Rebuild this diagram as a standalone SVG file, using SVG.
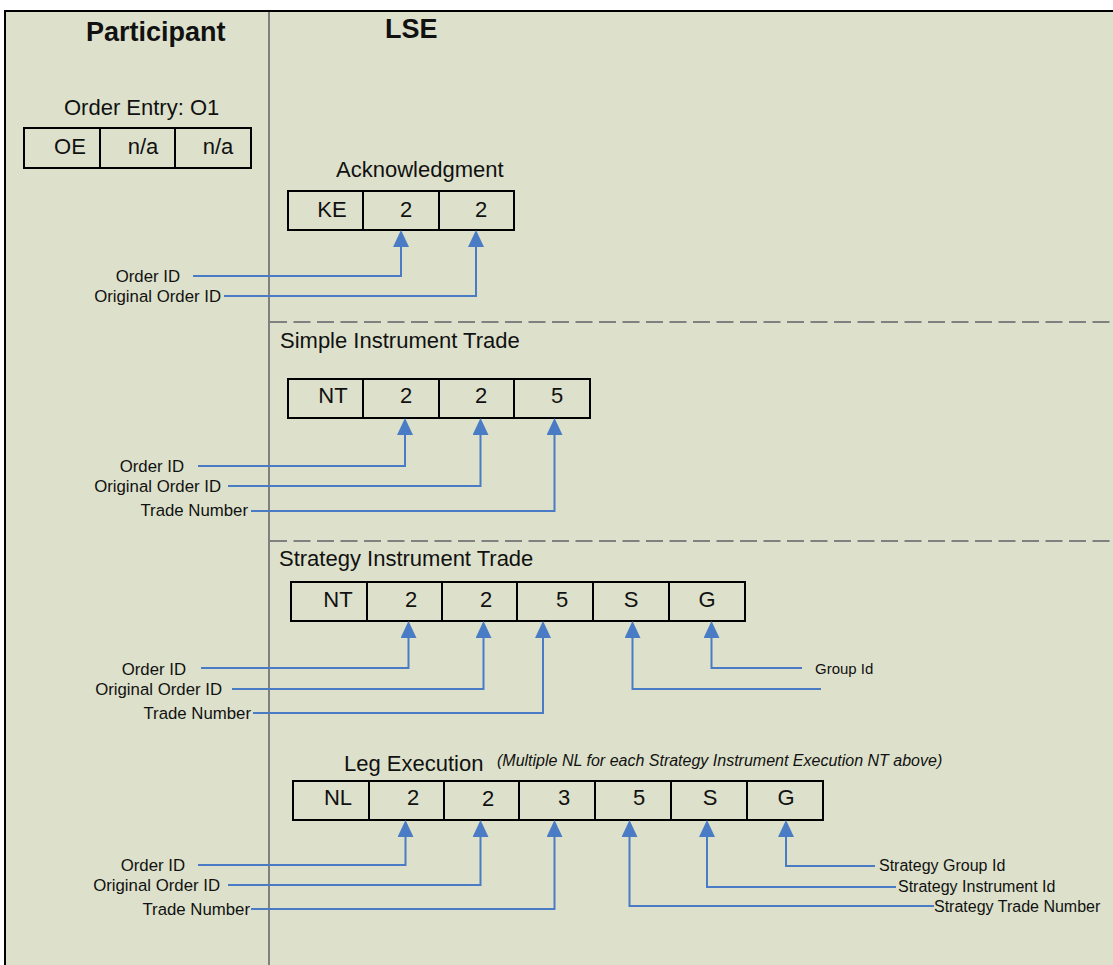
<svg xmlns="http://www.w3.org/2000/svg" width="1113" height="965" viewBox="0 0 1113 965">
<defs>
<marker id="arr" viewBox="0 0 17 16" markerWidth="17" markerHeight="16" refX="0" refY="8" orient="auto" markerUnits="userSpaceOnUse">
<path d="M0,0 L17,8 L0,16 z" fill="#4A7CC6"/>
</marker>
<style>
text{font-family:"Liberation Sans",Arial,sans-serif;fill:#111}
.hdr{font-size:27px;font-weight:bold}
.ttl{font-size:22px}
.cell{fill:none;stroke:#000;stroke-width:2}
.ct{font-size:22px;text-anchor:middle}
.lbl{font-size:16.8px;text-anchor:end}
.lblr{font-size:16px}
.note{font-size:16px;font-style:italic}
.con{fill:none;stroke:#4A7CC6;stroke-width:2;marker-end:url(#arr)}
.dash{stroke:#808080;stroke-width:2;stroke-dasharray:17 6.5}
</style>
</defs>
<rect x="0" y="0" width="1113" height="965" fill="#fff"/>
<rect x="5" y="11" width="1200" height="1000" fill="#DDE1CB" stroke="#000" stroke-width="2"/>
<line x1="269" y1="12" x2="269" y2="965" stroke="#808080" stroke-width="2"/>
<line class="dash" x1="270" y1="322" x2="1113" y2="322"/>
<line class="dash" x1="270" y1="541" x2="1113" y2="541"/>
<text class="hdr" x="86" y="41">Participant</text>
<text class="hdr" x="385" y="38">LSE</text>

<g id="order-entry">
<text class="ttl" x="64" y="115">Order Entry: O1</text>
<rect class="cell" x="24" y="128" width="76" height="40"/>
<rect class="cell" x="100" y="128" width="75" height="40"/>
<rect class="cell" x="175" y="128" width="76" height="40"/>
<text class="ct" x="70" y="154">OE</text>
<text class="ct" x="143" y="154">n/a</text>
<text class="ct" x="218" y="154">n/a</text>
</g>

<g id="acknowledgment">
<text class="ttl" x="336" y="177">Acknowledgment</text>
<rect class="cell" x="288" y="191" width="75" height="39"/>
<rect class="cell" x="363" y="191" width="76" height="39"/>
<rect class="cell" x="439" y="191" width="75" height="39"/>
<text class="ct" x="332" y="217">KE</text>
<text class="ct" x="406" y="217">2</text>
<text class="ct" x="481" y="217">2</text>
</g>
<g id="ack-labels">
<text class="lbl" x="180" y="282">Order ID</text>
<text class="lbl" x="221" y="302">Original Order ID</text>
</g>

<g id="simple-trade">
<text class="ttl" x="280" y="348">Simple Instrument Trade</text>
<rect class="cell" x="288" y="379" width="75" height="39"/>
<rect class="cell" x="363" y="379" width="76" height="39"/>
<rect class="cell" x="439" y="379" width="75" height="39"/>
<rect class="cell" x="514" y="379" width="76" height="39"/>
<text class="ct" x="333" y="403">NT</text>
<text class="ct" x="406" y="403">2</text>
<text class="ct" x="481" y="403">2</text>
<text class="ct" x="557" y="403">5</text>
</g>
<g id="simple-labels">
<text class="lbl" x="184" y="472">Order ID</text>
<text class="lbl" x="221" y="492">Original Order ID</text>
<text class="lbl" x="248" y="516">Trade Number</text>
</g>

<g id="strategy-trade">
<text class="ttl" x="279" y="566">Strategy Instrument Trade</text>
<rect class="cell" x="291" y="582" width="76" height="39"/>
<rect class="cell" x="367" y="582" width="75" height="39"/>
<rect class="cell" x="442" y="582" width="75" height="39"/>
<rect class="cell" x="517" y="582" width="76" height="39"/>
<rect class="cell" x="593" y="582" width="76" height="39"/>
<rect class="cell" x="669" y="582" width="76" height="39"/>
<text class="ct" x="338" y="607">NT</text>
<text class="ct" x="411" y="607">2</text>
<text class="ct" x="486" y="607">2</text>
<text class="ct" x="562" y="607">5</text>
<text class="ct" x="631" y="607">S</text>
<text class="ct" x="707" y="607">G</text>
</g>
<g id="strategy-labels">
<text class="lbl" x="186" y="675">Order ID</text>
<text class="lbl" x="222" y="695">Original Order ID</text>
<text class="lbl" x="251" y="719">Trade Number</text>
<text class="lblr" x="815" y="674" style="font-size:15px">Group Id</text>
</g>

<g id="leg-execution">
<text class="ttl" x="344" y="771">Leg Execution</text>
<text class="note" x="497" y="766">(Multiple NL for each Strategy Instrument Execution NT above)</text>
<rect class="cell" x="293" y="781" width="76" height="39"/>
<rect class="cell" x="369" y="781" width="75" height="39"/>
<rect class="cell" x="444" y="781" width="75" height="39"/>
<rect class="cell" x="519" y="781" width="76" height="39"/>
<rect class="cell" x="595" y="781" width="76" height="39"/>
<rect class="cell" x="671" y="781" width="76" height="39"/>
<rect class="cell" x="747" y="781" width="76" height="39"/>
<text class="ct" x="338" y="805">NL</text>
<text class="ct" x="413" y="805">2</text>
<text class="ct" x="488" y="806">2</text>
<text class="ct" x="564" y="805">3</text>
<text class="ct" x="639" y="805">5</text>
<text class="ct" x="710" y="805">S</text>
<text class="ct" x="786" y="805">G</text>
</g>
<g id="leg-labels">
<text class="lbl" x="185" y="871">Order ID</text>
<text class="lbl" x="220" y="891">Original Order ID</text>
<text class="lbl" x="250" y="915">Trade Number</text>
<text class="lblr" x="879" y="871">Strategy Group Id</text>
<text class="lblr" x="898" y="892">Strategy Instrument Id</text>
<text class="lblr" x="934" y="912">Strategy Trade Number</text>
</g>

<g id="connectors">
<path class="con" d="M193,276 H401 V247"/>
<path class="con" d="M224,296 H476 V247"/>
<path class="con" d="M198,466 H405 V435"/>
<path class="con" d="M228,486 H480.5 V435"/>
<path class="con" d="M251,511 H554.5 V435"/>
<path class="con" d="M201,668 H408.5 V638"/>
<path class="con" d="M232,689 H483.5 V638"/>
<path class="con" d="M253,713 H543 V638"/>
<path class="con" d="M821,689 H632.5 V638"/>
<path class="con" d="M802,668 H711.5 V638"/>
<path class="con" d="M198,865 H405.5 V837"/>
<path class="con" d="M228,885 H480.5 V837"/>
<path class="con" d="M251,909 H554.5 V837"/>
<path class="con" d="M934,906 H629.5 V837"/>
<path class="con" d="M896,887 H707 V837"/>
<path class="con" d="M875,866 H786 V837"/>
</g>
</svg>
